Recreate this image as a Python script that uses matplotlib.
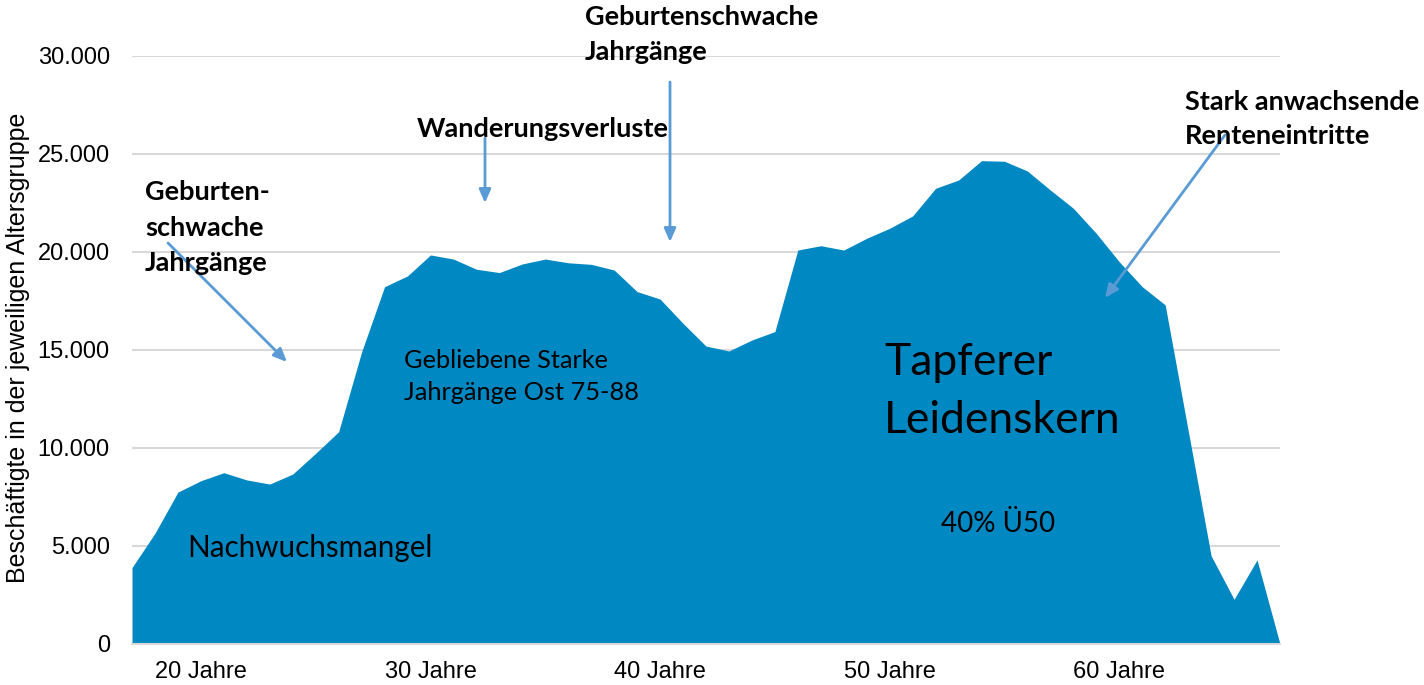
import numpy as np
import matplotlib.pyplot as plt
from matplotlib.ticker import FuncFormatter


# -----------------------------
# DATA
# -----------------------------
ages = list(range(17, 68))
employed = [
    3900, 5650, 7750, 8330, 8740, 8370, 8160, 8670, 9730, 10830,   # 17-26
    14900, 18230, 18780, 19850, 19640, 19120, 18950, 19390, 19640, 19450,  # 27-36
    19370, 19080, 17980, 17600, 16360, 15200, 14950, 15510, 15940, 20100,  # 37-46
    20320, 20100, 20700, 21210, 21840, 23250, 23670, 24660, 24630, 24130,  # 47-56
    23160, 22230, 20950, 19500, 18230, 17300, 10900, 4500, 2280, 4290,     # 57-66
    0,                                                                     # 67
]
tick_ages = [20, 30, 40, 50, 60]
tick_labels = ["20 Jahre", "30 Jahre", "40 Jahre", "50 Jahre", "60 Jahre"]
y_ticks = [0, 5000, 10000, 15000, 20000, 25000, 30000]

area_color = "#0088C2"
arrow_color = "#5B9BD5"
grid_color = "#D9D9D9"

W, H = 1424, 685


def fx(px):
    return px / W


def fy(py):
    return 1 - py / H


# -----------------------------
# FIGURE
# -----------------------------
fig = plt.figure(figsize=(W / 100, H / 100), dpi=100)
ax = fig.add_axes([fx(132), fy(644), fx(1280) - fx(132), fy(56) - fy(644)])

ax.fill_between(ages, employed, 0, color=area_color, linewidth=0, zorder=2)

ax.set_xlim(17, 67)
ax.set_ylim(0, 30000)
ax.set_yticks(y_ticks)
ax.yaxis.set_major_formatter(FuncFormatter(lambda v, p: f"{int(v):,}".replace(",", ".")))
ax.set_xticks(tick_ages)
ax.set_xticklabels(tick_labels)

for s in ["top", "right", "left"]:
    ax.spines[s].set_visible(False)
ax.spines["bottom"].set_color(grid_color)
ax.spines["bottom"].set_linewidth(1.5)
ax.spines["bottom"].set_zorder(3)

ax.grid(axis="y", color=grid_color, linewidth=1.5, zorder=0)
ax.set_axisbelow(True)
ax.tick_params(axis="both", length=0, labelsize=17, colors="black")
ax.tick_params(axis="y", pad=16)
ax.tick_params(axis="x", pad=12)
for lab in ax.get_xticklabels() + ax.get_yticklabels():
    lab.set_fontfamily("Liberation Sans")

fig.text(fx(18), fy(348), "Beschäftigte in der jeweiligen Altersgruppe",
         rotation=90, ha="center", va="center", fontsize=18,
         family="Liberation Sans")


# -----------------------------
# ANNOTATIONS
# -----------------------------
def label(x, y, txt, size, bold=False):
    fig.text(fx(x), fy(y), txt, ha="left", va="baseline", fontsize=size,
             family="Lato", fontweight="bold" if bold else "normal")


label(145, 200, "Geburten-", 19.5, True)
label(145, 236, "schwache", 19.5, True)
label(145, 271, "Jahrgänge", 19.5, True)

label(417, 137, "Wanderungsverluste", 19.5, True)

label(585, 25, "Geburtenschwache", 19.5, True)
label(585, 60, "Jahrgänge", 19.5, True)

label(1185, 110, "Stark anwachsende", 19.5, True)
label(1185, 144, "Renteneintritte", 19.5, True)

label(187, 557, "Nachwuchsmangel", 21.3)
label(404, 368, "Gebliebene Starke", 18.3)
label(404, 400, "Jahrgänge Ost 75-88", 18.3)
label(884, 375, "Tapferer", 32)
label(884, 433, "Leidenskern", 32)
label(941, 532, "40% Ü50", 20)


def arrow(x0, y0, x1, y1):
    ax.annotate("", xy=(fx(x1), fy(y1)), xytext=(fx(x0), fy(y0)),
                xycoords="figure fraction", textcoords="figure fraction",
                arrowprops=dict(arrowstyle="-|>,head_length=0.8,head_width=0.35",
                                color=arrow_color, lw=2, shrinkA=0, shrinkB=0),
                annotation_clip=False, zorder=5)


arrow(168, 243, 287, 362)
arrow(485, 138, 485, 203)
arrow(670, 82, 670, 242)
arrow(1225, 135, 1105, 298)

plt.savefig("out.png", dpi=100)
plt.close()
print("Saved: out.png")
